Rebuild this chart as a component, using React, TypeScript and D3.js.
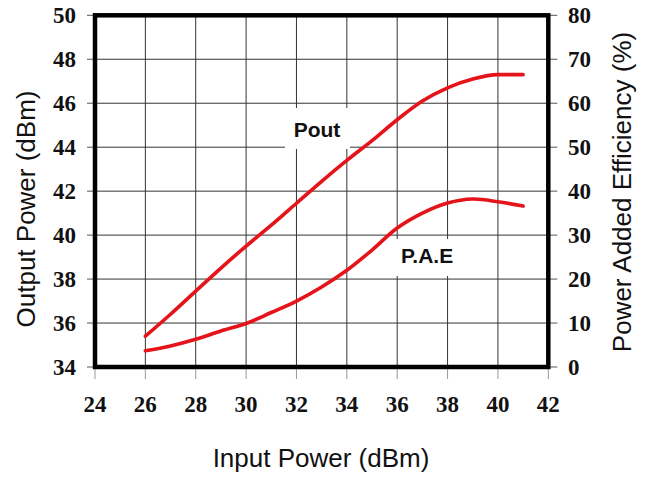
import React from "react";
import * as d3 from "d3";

const inputPower = [26, 27, 28, 29, 30, 31, 32, 33, 34, 35, 36, 37, 38, 39, 40, 41];
const poutValues = [35.4, 36.4, 37.45, 38.5, 39.5, 40.45, 41.45, 42.45, 43.4, 44.3, 45.25, 46.1, 46.7, 47.1, 47.3, 47.3];
const paeValues = [3.7, 4.8, 6.3, 8.2, 9.9, 12.4, 15.0, 18.2, 22.0, 26.6, 31.6, 35.0, 37.3, 38.2, 37.6, 36.6];
const xTicks = [24, 26, 28, 30, 32, 34, 36, 38, 40, 42];
const leftTicks = [34, 36, 38, 40, 42, 44, 46, 48, 50];
const rightTicks = [0, 10, 20, 30, 40, 50, 60, 70, 80];

const W = 649;
const H = 485;
const L = 95, R = 548.3, T = 15.3, B = 367;

export default function App() {
  const x = d3.scaleLinear().domain([24, 42]).range([L, R]);
  const yL = d3.scaleLinear().domain([34, 50]).range([B, T]);
  const yR = d3.scaleLinear().domain([0, 80]).range([B, T]);
  const red = "#e5141b";
  const poutLine = d3
    .line<number>()
    .x((_, i) => x(inputPower[i]))
    .y((d) => yL(d))
    .curve(d3.curveMonotoneX);
  const paeLine = d3
    .line<number>()
    .x((_, i) => x(inputPower[i]))
    .y((d) => yR(d))
    .curve(d3.curveCatmullRom.alpha(0.5));
  const serif = "'Liberation Serif', 'Times New Roman', serif";
  const sans = "'Liberation Sans', Arial, sans-serif";
  return (
    <svg
      width={W}
      height={H}
      style={{ position: "absolute", left: 0, top: 0, background: "#fff" }}
    >
      {/* grid */}
      {xTicks.map((t) => (
        <line key={"gx" + t} x1={x(t)} x2={x(t)} y1={T} y2={B} stroke="#333" strokeWidth={1} />
      ))}
      {leftTicks.map((t) => (
        <line key={"gy" + t} x1={L} x2={R} y1={yL(t)} y2={yL(t)} stroke="#333" strokeWidth={1} />
      ))}
      {/* outer ticks */}
      {leftTicks.map((t) => (
        <line key={"tl" + t} x1={L - 8} x2={L} y1={yL(t)} y2={yL(t)} stroke="#555" strokeWidth={1} />
      ))}
      {rightTicks.map((t) => (
        <line key={"tr" + t} x1={R} x2={R + 9} y1={yR(t)} y2={yR(t)} stroke="#555" strokeWidth={1} />
      ))}
      {xTicks.map((t) => (
        <line key={"tb" + t} x1={x(t)} x2={x(t)} y1={B} y2={B + 12} stroke="#999" strokeWidth={1} />
      ))}
      {/* label boxes */}
      <rect x={285} y={108} width={65} height={41} fill="#fff" />
      <rect x={392} y={239} width={70} height={37} fill="#fff" />
      <text x={317} y={137} textAnchor="middle" fontFamily={sans} fontWeight="bold" fontSize={21} fill="#111">
        Pout
      </text>
      <text x={401} y={263} textAnchor="start" fontFamily={sans} fontWeight="bold" fontSize={21} fill="#111">
        P.A.E
      </text>
      {/* curves */}
      <path d={poutLine(poutValues) || ""} fill="none" stroke={red} strokeWidth={3.6} strokeLinecap="round" />
      <path d={paeLine(paeValues) || ""} fill="none" stroke={red} strokeWidth={3.6} strokeLinecap="round" />
      {/* border */}
      <rect x={L} y={T} width={R - L} height={B - T} fill="none" stroke="#000" strokeWidth={4.5} />
      {/* tick labels */}
      {leftTicks.map((t) => (
        <text key={"ll" + t} x={76} y={yL(t)} dy="0.35em" textAnchor="end" fontFamily={serif} fontWeight="bold" fontSize={23} fill="#111">
          {t}
        </text>
      ))}
      {rightTicks.map((t) => (
        <text key={"rl" + t} x={568} y={yR(t)} dy="0.35em" textAnchor="start" fontFamily={serif} fontWeight="bold" fontSize={23} fill="#111">
          {t}
        </text>
      ))}
      {xTicks.map((t) => (
        <text key={"bl" + t} x={x(t)} y={412} textAnchor="middle" fontFamily={serif} fontWeight="bold" fontSize={23} fill="#111">
          {t}
        </text>
      ))}
      {/* axis titles */}
      <text
        transform={`translate(35,209) rotate(-90)`}
        textAnchor="middle"
        fontFamily={sans}
        fontSize={26}
        fill="#111"
      >
        Output Power (dBm)
      </text>
      <text
        transform={`translate(630.5,192) rotate(-90)`}
        textAnchor="middle"
        fontFamily={sans}
        fontSize={26}
        fill="#111"
      >
        Power Added Efficiency (%)
      </text>
      <text x={321} y={467} textAnchor="middle" fontFamily={sans} fontSize={26} fill="#111">
        Input Power (dBm)
      </text>
    </svg>
  );
}
